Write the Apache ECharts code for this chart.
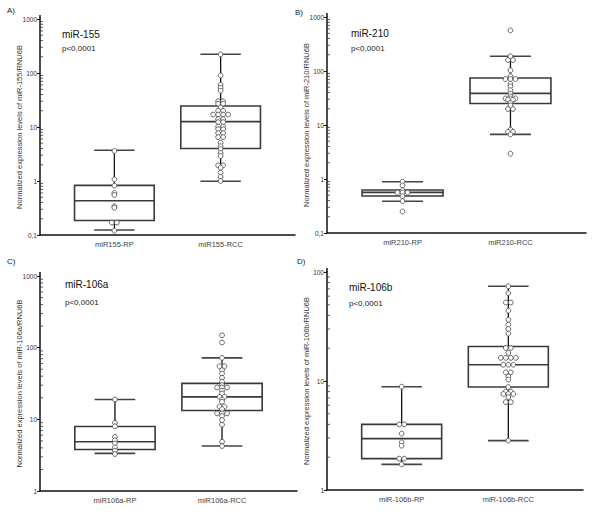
<!DOCTYPE html>
<html><head><meta charset="utf-8">
<script src="https://cdn.jsdelivr.net/npm/echarts@6/dist/echarts.min.js"></script>
<style>html,body{margin:0;padding:0;background:#fff}#c{width:600px;height:521px}</style>
</head><body><div id="c"></div>
<script>
// ---------------- DATA ----------------
const panelLetters = ['A)', 'B)', 'C)', 'D)'];
const panelTitles = ['miR-155', 'miR-210', 'miR-106a', 'miR-106b'];
const pTexts = ['p<0,0001', 'p<0,0001', 'p<0,0001', 'p<0,0001'];
const yTitles = [
  'Normalized expression levels of miR-155/RNU6B',
  'Normalized expression levels of miR-210/RNU6B',
  'Normalized expression levels of miR-106a/RNU6B',
  'Normalized expression levels of miR-106b/RNU6B'
];
const categoriesA = ['miR155-RP', 'miR155-RCC'];
const categoriesB = ['miR210-RP', 'miR210-RCC'];
const categoriesC = ['miR106a-RP', 'miR106a-RCC'];
const categoriesD = ['miR-106b-RP', 'miR-106b-RCC'];

// box summaries: [lower whisker, Q1, median, Q3, upper whisker]
const boxRpA = [0.124, 0.185, 0.43, 0.83, 3.7];
const boxRccA = [0.99, 4.0, 12.6, 24.5, 222];
const boxRpB = [0.386, 0.484, 0.566, 0.625, 0.89];
const boxRccB = [6.7, 25, 38.5, 74, 187];
const boxRpC = [3.35, 3.8, 4.87, 7.96, 18.9];
const boxRccC = [4.24, 13.3, 20.6, 31.7, 72];
const boxRpD = [1.72, 1.94, 2.96, 4.0, 8.87];
const boxRccD = [2.84, 8.8, 14.1, 20.7, 74];

// individual observations (repeated values sit side by side)
const rpA = [3.6, 1.07, 0.82, 0.6, 0.55, 0.34, 0.32, 0.17, 0.17, 0.12];
const rccA = [222, 90, 60, 53, 47, 30, 30, 27, 27, 23, 20, 20, 17, 17, 17, 17, 14, 14, 12.3, 12.3,
  10.2, 10.2, 9.1, 9.1, 7.7, 7.7, 6.5, 6.5, 5.1, 4.4, 3.9, 3.3, 2.9, 1.95, 1.95, 1.77, 1.43, 1.19, 1.0];
const rpB = [0.89, 0.76, 0.62, 0.56, 0.56, 0.56, 0.48, 0.39, 0.25];
const rccB = [566, 187, 160, 160, 103, 80, 71, 71, 71, 58, 52, 44, 38, 34, 31, 31, 31, 29.5, 29.5,
  25.5, 23, 19.8, 19.8, 8.2, 7.5, 7.5, 6.7, 2.94];
const rpC = [18.9, 8.96, 7.99, 5.7, 5.1, 4.6, 4.06, 3.65, 3.28];
const rccC = [149, 118, 72, 55, 55, 48.5, 43.6, 38, 33.4, 30, 27.8, 27.8, 27.8, 25, 22.9, 20.6, 20.6,
  18.9, 17.6, 15, 15, 13.9, 12.1, 12.1, 12.1, 11.1, 9.76, 8.4, 4.87, 4.24];
const rpD = [8.87, 4.0, 4.0, 3.29, 2.74, 2.55, 1.94, 1.94, 1.72];
const rccD = [74, 64, 52.5, 52.5, 44.2, 36.5, 32.9, 30, 27.2, 20.1, 20.1, 18.1, 16.3, 16.3, 16.3, 16.3,
  14.1, 14.1, 14.1, 12, 12, 11, 10.3, 8.8, 8.0, 8.0, 7.6, 7.6, 7.6, 7.1, 6.4, 6.4, 2.84];

const yRangeA = [0.1, 1000];
const yRangeB = [0.1, 1000];
const yRangeC = [1, 1000];
const yRangeD = [1, 100];

// ---------------- LAYOUT / STYLE ----------------
const FONT = '"Liberation Sans", Arial, sans-serif';
const X_MIN = -0.7, X_MAX = 1.7;
const BOX_HALF = 0.375, CAP_HALF = 0.19;
const DOT_STEP = 5, DOT_R = 2.4;

const panels = [
  { cats: categoriesA, rp: rpA, rcc: rccA, bRp: boxRpA, bRcc: boxRccA, yr: yRangeA,
    grid: { left: 40, top: 19, width: 255, height: 216 }, letter: [7, 6], title: [62, 29], p: [62, 44] },
  { cats: categoriesB, rp: rpB, rcc: rccB, bRp: boxRpB, bRcc: boxRccB, yr: yRangeB,
    grid: { left: 327, top: 17, width: 259, height: 216 }, letter: [295, 8], title: [351, 28], p: [351, 44] },
  { cats: categoriesC, rp: rpC, rcc: rccC, bRp: boxRpC, bRcc: boxRccC, yr: yRangeC,
    grid: { left: 40, top: 276, width: 257, height: 215 }, letter: [7, 257], title: [65, 279], p: [65, 298] },
  { cats: categoriesD, rp: rpD, rcc: rccD, bRp: boxRpD, bRcc: boxRccD, yr: yRangeD,
    grid: { left: 327, top: 272, width: 256, height: 218 }, letter: [297, 257], title: [349, 282], p: [349, 299] }
];

function swarm(group, values) {
  const counts = {}, seen = {};
  values.forEach(v => counts[v] = (counts[v] || 0) + 1);
  return values.map(v => { const s = seen[v] || 0; seen[v] = s + 1; return [group, v, s, counts[v]]; });
}
function minorTickValues(lo, hi) {
  const out = [];
  for (let e = Math.round(Math.log10(lo)); e < Math.round(Math.log10(hi)); e++) {
    for (let k = 2; k <= 9; k++) out.push(Number((k * Math.pow(10, e)).toPrecision(3)));
  }
  return out;
}
function fmtLog(v) {
  const n = Number(Number(v).toPrecision(3));
  return String(n).replace('.', ',');
}

const grids = [], xAxes = [], yAxes = [], series = [], titles = [];
panels.forEach((pn, i) => {
  grids.push(Object.assign({ containLabel: false }, pn.grid));
  xAxes.push({
    type: 'value', gridIndex: i, min: X_MIN, max: X_MAX,
    splitLine: { show: false },
    axisLine: { show: true, onZero: false, lineStyle: { color: '#111', width: 1.5 } },
    axisTick: { show: false },
    axisLabel: {
      customValues: [0, 1], fontSize: 7.5, color: '#444', fontFamily: FONT, margin: 5,
      formatter: (v) => pn.cats[Math.round(v)] || ''
    }
  });
  yAxes.push({
    type: 'log', logBase: 10, gridIndex: i, min: pn.yr[0], max: pn.yr[1],
    name: yTitles[i], nameLocation: 'middle', nameGap: 16.5, nameMoveOverlap: false,
    nameTextStyle: { fontSize: 7.5, color: '#333', fontFamily: FONT },
    splitLine: { show: false },
    axisLine: { show: true, onZero: false, lineStyle: { color: '#111', width: 1.5 } },
    axisTick: { show: true, length: 3, lineStyle: { color: '#111', width: 1 } },
    axisLabel: { fontSize: 6.5, color: '#333', fontFamily: FONT, margin: 3, formatter: fmtLog }
  });
  // minor log ticks + short axis extension above the top tick
  series.push({
    type: 'custom', xAxisIndex: i, yAxisIndex: i, silent: true, z: 1,
    data: minorTickValues(pn.yr[0], pn.yr[1]).map(v => [X_MIN, v, 0]).concat([[X_MIN, pn.yr[1], 1]]),
    renderItem: (params, api) => {
      const p = api.coord([api.value(0), api.value(1)]);
      if (api.value(2) === 1) {
        return { type: 'line', shape: { x1: p[0], y1: p[1], x2: p[0], y2: p[1] - 4 },
          style: { stroke: '#111', lineWidth: 1.5 } };
      }
      return { type: 'line', shape: { x1: p[0], y1: p[1], x2: p[0] + 3, y2: p[1] },
        style: { stroke: '#333', lineWidth: 0.8 } };
    }
  });
  // boxes
  series.push({
    type: 'custom', xAxisIndex: i, yAxisIndex: i, silent: true, z: 2,
    data: [[0].concat(pn.bRp), [1].concat(pn.bRcc)],
    renderItem: (params, api) => {
      const g = api.value(0);
      const v = [1, 2, 3, 4, 5].map(k => api.value(k));
      const c = (x, y) => api.coord([x, y]);
      const pMin = c(g, v[0]), pQ1 = c(g, v[1]), pMed = c(g, v[2]), pQ3 = c(g, v[3]), pMax = c(g, v[4]);
      const xl = c(g - BOX_HALF, v[2])[0], xr = c(g + BOX_HALF, v[2])[0];
      const cl = c(g - CAP_HALF, v[2])[0], cr = c(g + CAP_HALF, v[2])[0];
      const x0 = pMed[0];
      const wStyle = { stroke: '#111', lineWidth: 1.3 };
      const bStyle = { stroke: '#3a3a3a', lineWidth: 1.6, fill: null };
      return { type: 'group', children: [
        { type: 'line', shape: { x1: x0, y1: pQ3[1], x2: x0, y2: pMax[1] }, style: wStyle },
        { type: 'line', shape: { x1: x0, y1: pQ1[1], x2: x0, y2: pMin[1] }, style: wStyle },
        { type: 'line', shape: { x1: cl, y1: pMax[1], x2: cr, y2: pMax[1] }, style: { stroke: '#444', lineWidth: 1.6 } },
        { type: 'line', shape: { x1: cl, y1: pMin[1], x2: cr, y2: pMin[1] }, style: { stroke: '#444', lineWidth: 1.6 } },
        { type: 'rect', shape: { x: xl, y: pQ3[1], width: xr - xl, height: pQ1[1] - pQ3[1] }, style: bStyle },
        { type: 'line', shape: { x1: xl, y1: pMed[1], x2: xr, y2: pMed[1] }, style: { stroke: '#3a3a3a', lineWidth: 1.6 } }
      ] };
    }
  });
  // points
  series.push({
    type: 'custom', xAxisIndex: i, yAxisIndex: i, silent: true, z: 3,
    data: swarm(0, pn.rp).concat(swarm(1, pn.rcc)),
    renderItem: (params, api) => {
      const p = api.coord([api.value(0), api.value(1)]);
      const dx = (api.value(2) - (api.value(3) - 1) / 2) * DOT_STEP;
      return { type: 'circle', shape: { cx: p[0] + dx, cy: p[1], r: DOT_R },
        style: { fill: '#fff', stroke: '#555', lineWidth: 0.9 } };
    }
  });
  titles.push({ text: panelLetters[i], left: pn.letter[0], top: pn.letter[1], padding: 0,
    textStyle: { fontSize: 8, fontWeight: 'normal', color: '#222', fontFamily: FONT } });
  titles.push({ text: panelTitles[i], left: pn.title[0], top: pn.title[1], padding: 0,
    textStyle: { fontSize: 10, fontWeight: 'normal', color: '#111', fontFamily: FONT } });
  titles.push({ text: pTexts[i], left: pn.p[0], top: pn.p[1], padding: 0,
    textStyle: { fontSize: 8, fontWeight: 'normal', color: '#222', fontFamily: FONT } });
});

const chart = echarts.init(document.getElementById('c'), null, { renderer: 'svg', width: 600, height: 521 });
chart.setOption({
  backgroundColor: '#fff',
  animation: false,
  title: titles,
  grid: grids,
  xAxis: xAxes,
  yAxis: yAxes,
  series: series
});
</script>
</body></html>
